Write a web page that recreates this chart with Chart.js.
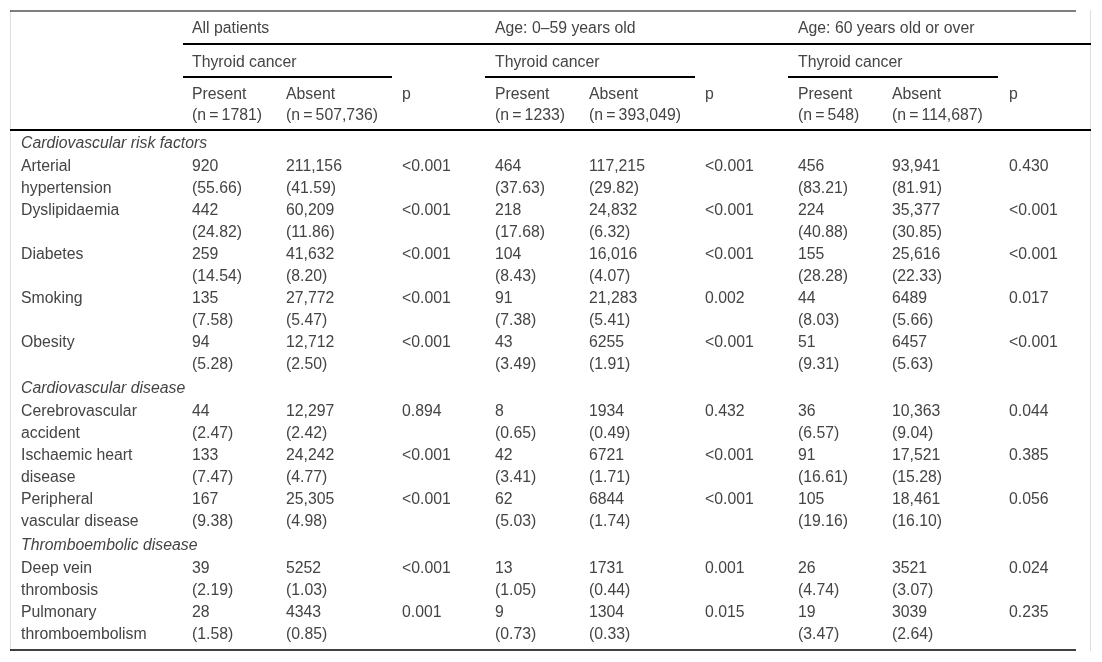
<!DOCTYPE html>
<html>
<head>
<meta charset="utf-8">
<title>Thyroid cancer and cardiovascular risk</title>
<script src="https://cdn.jsdelivr.net/npm/chart.js@4.4.1/dist/chart.umd.min.js"></script>
<style>
  html, body { margin: 0; padding: 0; background: #fff; }
  canvas { display: block; }
</style>
</head>
<body>
<canvas id="tableChart" width="1102" height="662"></canvas>
<script>
// column groups
const groupTitles = ["All patients", "Age: 0\u201359 years old", "Age: 60 years old or over"];
const subTitle = "Thyroid cancer";
const presentN = [1781, 1233, 548];
const absentN = [507736, 393049, 114687];

// row headings
const sections = ["Cardiovascular risk factors", "Cardiovascular disease", "Thromboembolic disease"];
const sectionOf = [0, 0, 0, 0, 0, 1, 1, 1, 2, 2];
const rowLabels = [
  "Arterial\nhypertension", "Dyslipidaemia", "Diabetes", "Smoking", "Obesity",
  "Cerebrovascular\naccident", "Ischaemic heart\ndisease", "Peripheral\nvascular disease",
  "Deep vein\nthrombosis", "Pulmonary\nthromboembolism"
];

// all patients
const allPresent = [920, 442, 259, 135, 94, 44, 133, 167, 39, 28];
const allPresentPct = [55.66, 24.82, 14.54, 7.58, 5.28, 2.47, 7.47, 9.38, 2.19, 1.58];
const allAbsent = [211156, 60209, 41632, 27772, 12712, 12297, 24242, 25305, 5252, 4343];
const allAbsentPct = [41.59, 11.86, 8.20, 5.47, 2.50, 2.42, 4.77, 4.98, 1.03, 0.85];
const allP = ["<0.001", "<0.001", "<0.001", "<0.001", "<0.001", "0.894", "<0.001", "<0.001", "<0.001", "0.001"];

// 0-59 years
const youngPresent = [464, 218, 104, 91, 43, 8, 42, 62, 13, 9];
const youngPresentPct = [37.63, 17.68, 8.43, 7.38, 3.49, 0.65, 3.41, 5.03, 1.05, 0.73];
const youngAbsent = [117215, 24832, 16016, 21283, 6255, 1934, 6721, 6844, 1731, 1304];
const youngAbsentPct = [29.82, 6.32, 4.07, 5.41, 1.91, 0.49, 1.71, 1.74, 0.44, 0.33];
const youngP = ["<0.001", "<0.001", "<0.001", "0.002", "<0.001", "0.432", "<0.001", "<0.001", "0.001", "0.015"];

// 60 and over
const oldPresent = [456, 224, 155, 44, 51, 36, 91, 105, 26, 19];
const oldPresentPct = [83.21, 40.88, 28.28, 8.03, 9.31, 6.57, 16.61, 19.16, 4.74, 3.47];
const oldAbsent = [93941, 35377, 25616, 6489, 6457, 10363, 17521, 18461, 3521, 3039];
const oldAbsentPct = [81.91, 30.85, 22.33, 5.66, 5.63, 9.04, 15.28, 16.10, 3.07, 2.64];
const oldP = ["0.430", "<0.001", "<0.001", "0.017", "<0.001", "0.044", "0.385", "0.056", "0.024", "0.235"];

// layout
const W = 1102, H = 662;
const colX = [21, 192, 286, 402, 495, 589, 705, 798, 892, 1009];
const LINE = 21.5;
const FONT = "15.8px 'Liberation Sans', Arial, sans-serif";
const FONT_IT = "italic 15.8px 'Liberation Sans', Arial, sans-serif";
const TEXT = "#444";

function fmt(n) {
  return n >= 10000 ? String(n).replace(/\B(?=(\d{3})+(?!\d))/g, ",") : String(n);
}

const groups = [
  [allPresent, allPresentPct, allAbsent, allAbsentPct, allP],
  [youngPresent, youngPresentPct, youngAbsent, youngAbsentPct, youngP],
  [oldPresent, oldPresentPct, oldAbsent, oldAbsentPct, oldP]
];

const tablePlugin = {
  id: "tablePlugin",
  afterDraw(chart) {
    const ctx = chart.ctx;
    const sx = chart.scales.x, sy = chart.scales.y;
    const X = v => sx.getPixelForValue(v);
    const Y = v => sy.getPixelForValue(v);

    function hline(x1, x2, y, w, color) {
      ctx.save();
      ctx.strokeStyle = color || "#000";
      ctx.lineWidth = w;
      ctx.beginPath();
      ctx.moveTo(X(x1), Y(y));
      ctx.lineTo(X(x2), Y(y));
      ctx.stroke();
      ctx.restore();
    }
    function text(s, x, y, font) {
      ctx.font = font || FONT;
      ctx.fillText(s, X(x), Y(y + 1));
    }

    // frame
    ctx.save();
    ctx.strokeStyle = "#dedede";
    ctx.lineWidth = 1;
    ctx.beginPath();
    ctx.moveTo(X(10.5), Y(10));
    ctx.lineTo(X(10.5), Y(651));
    ctx.moveTo(X(1090.5), Y(10));
    ctx.lineTo(X(1090.5), Y(651));
    ctx.stroke();
    ctx.restore();

    hline(10, 1076, 11, 1.2);
    hline(183, 1091, 44, 2);
    [[183, 392], [485, 695], [788, 998]].forEach(s => hline(s[0], s[1], 77, 2));
    hline(10, 1091, 130, 2);
    hline(10, 1076, 650, 1.5);

    ctx.save();
    ctx.fillStyle = TEXT;
    ctx.textBaseline = "middle";
    ctx.textAlign = "left";

    // header
    for (let g = 0; g < 3; g++) {
      const c = 1 + g * 3;
      text(groupTitles[g], colX[c], 27.5);
      text(subTitle, colX[c], 61.5);
      text("Present", colX[c], 93.5);
      text("(n\u2009=\u2009" + fmt(presentN[g]) + ")", colX[c], 93.5 + LINE);
      text("Absent", colX[c + 1], 93.5);
      text("(n\u2009=\u2009" + fmt(absentN[g]) + ")", colX[c + 1], 93.5 + LINE);
      text("p", colX[c + 2], 93.5);
    }

    // body
    let y = 143;
    let prevSection = -1;
    rowLabels.forEach((label, i) => {
      if (sectionOf[i] !== prevSection) {
        if (prevSection >= 0) y += 46;
        text(sections[sectionOf[i]], colX[0], y, FONT_IT);
        y += 23;
        prevSection = sectionOf[i];
      } else {
        y += 44;
      }
      label.split("\n").forEach((part, k) => text(part, colX[0], y + k * LINE));
      groups.forEach((d, g) => {
        const c = 1 + g * 3;
        text(fmt(d[0][i]), colX[c], y);
        text("(" + d[1][i].toFixed(2) + ")", colX[c], y + LINE);
        text(fmt(d[2][i]), colX[c + 1], y);
        text("(" + d[3][i].toFixed(2) + ")", colX[c + 1], y + LINE);
        text(d[4][i], colX[c + 2], y);
      });
    });
    ctx.restore();
  }
};

new Chart(document.getElementById("tableChart").getContext("2d"), {
  type: "scatter",
  data: { datasets: [{ data: [] }] },
  options: {
    responsive: false,
    animation: false,
    layout: { padding: 0 },
    plugins: { legend: { display: false }, tooltip: { enabled: false } },
    scales: {
      x: { type: "linear", min: 0, max: W, display: false },
      y: { type: "linear", min: 0, max: H, reverse: true, display: false }
    }
  },
  plugins: [tablePlugin]
});
</script>
</body>
</html>
